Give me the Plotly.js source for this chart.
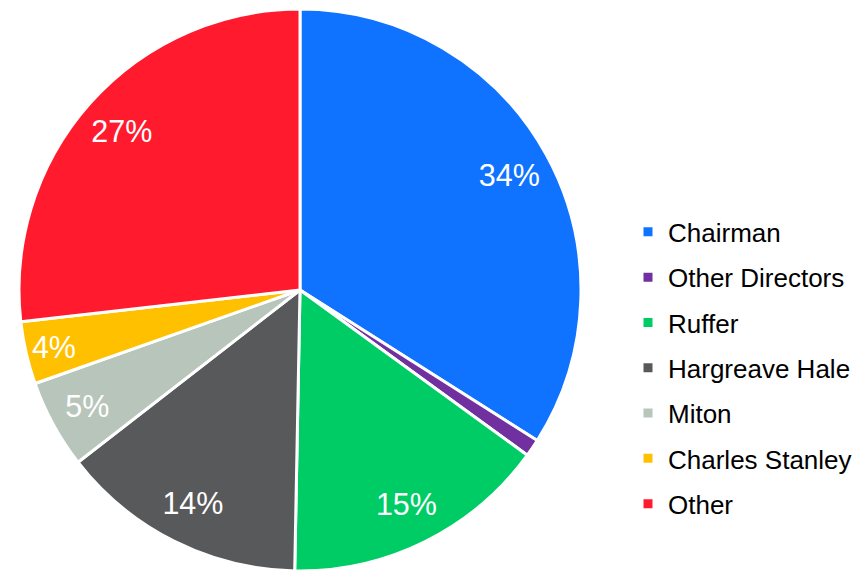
<!DOCTYPE html>
<html>
<head>
<meta charset="utf-8">
<script src="https://cdn.plot.ly/plotly-3.0.1.min.js"></script>
<style>html,body{margin:0;padding:0;background:#fff;}#chart{width:865px;height:571px;}</style>
</head>
<body>
<div id="chart"></div>
<script>
const categories = ["Chairman", "Other Directors", "Ruffer", "Hargreave Hale", "Miton", "Charles Stanley", "Other"];
const shares = [34.0, 1.0, 15.3, 14.2, 5.1, 3.6, 26.8];
const sliceColors = ["#0F73FF", "#7030A0", "#00CC66", "#58595B", "#B8C5BB", "#FFC000", "#FF1A2E"];
const labelTemplates = ["%{percent:.0%}", "", "%{percent:.0%}", "%{percent:.0%}", "%{percent:.0%}", "%{percent:.0%}", "%{percent:.0%}"];

const pieDomain = {x: [19/865, 581/865], y: [0, 562/571]};
const fontFamily = "Liberation Sans, Arial, sans-serif";

const slices = {
  type: "pie",
  labels: categories,
  values: shares,
  sort: false,
  direction: "clockwise",
  rotation: 0,
  marker: {colors: sliceColors, line: {color: "#ffffff", width: 3}},
  textinfo: "none",
  hoverinfo: "label+percent",
  domain: pieDomain
};

// transparent ring used only to place the percentage labels near the rim
const labelRing = {
  type: "pie",
  labels: categories,
  values: shares,
  sort: false,
  direction: "clockwise",
  rotation: 0,
  hole: 0.7,
  showlegend: false,
  marker: {colors: categories.map(() => "rgba(0,0,0,0)"), line: {width: 0}},
  texttemplate: labelTemplates,
  textposition: "inside",
  insidetextorientation: "horizontal",
  textfont: {family: fontFamily, size: 30.5, color: "#ffffff"},
  hoverinfo: "skip",
  domain: pieDomain
};

const layout = {
  width: 865, height: 571,
  margin: {l: 0, r: 0, t: 0, b: 0},
  paper_bgcolor: "#ffffff",
  showlegend: true,
  legend: {
    x: 0.725, xanchor: "left", y: 0.354, yanchor: "middle",
    font: {family: fontFamily, size: 26, color: "#000000"},
    bgcolor: "rgba(0,0,0,0)"
  }
};

Plotly.newPlot("chart", [slices, labelRing], layout, {displayModeBar: false, staticPlot: true}).then(function (gd) {
  // spread legend entries to the reference row spacing
  const items = gd.querySelectorAll(".legend .traces");
  const sb = gd.querySelector(".legend .scrollbox");
  if (sb) sb.removeAttribute("clip-path");
  const firstCenter = 233, step = 45.3, textLeft = 668;
  items.forEach(function (it, i) {
    const tr = it.getAttribute("transform") || "translate(0,0)";
    const m = tr.match(/translate\(([-\d.e]+)[ ,]*([-\d.e]+)?\)/);
    let tx = m ? parseFloat(m[1]) : 0, ty = m && m[2] ? parseFloat(m[2]) : 0;
    const txt = it.querySelector("text");
    const r = txt.getBoundingClientRect();
    const cy = r.top + r.height / 2;
    const dy = (firstCenter + i * step) - cy;
    const dx = textLeft - r.left;
    it.setAttribute("transform", "translate(" + (tx + dx) + "," + (ty + dy) + ")");
  });
});
</script>
</body>
</html>
